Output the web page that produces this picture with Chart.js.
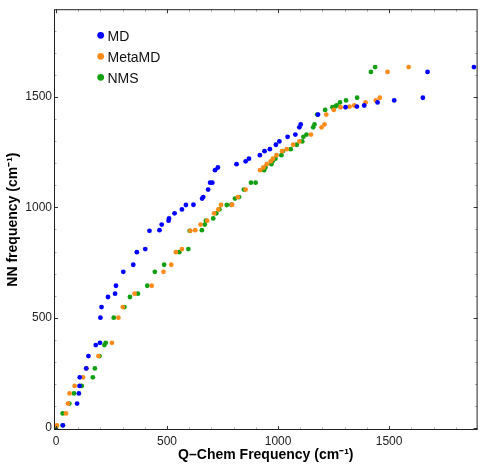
<!DOCTYPE html>
<html><head><meta charset="utf-8">
<script src="https://cdn.jsdelivr.net/npm/chart.js@4/dist/chart.umd.min.js"></script>
<style>html,body{margin:0;padding:0;background:#fff}#wrap{width:480px;height:465px}</style>
</head><body><div id="wrap"><canvas id="c" width="480" height="465"></canvas></div>
<script>
const seriesNames = ['MD', 'MetaMD', 'NMS'];
const seriesColors = ['#0000ff', '#ff8c1a', '#12a012'];

const mdX = [31, 95, 103, 106, 107, 136, 146, 179, 198, 200, 205, 234, 266, 270, 303, 348, 364, 402, 421, 466, 476, 507, 509, 534, 567, 585, 619, 658, 663, 685, 694, 704, 716, 729, 813, 854, 869, 918, 939, 963, 990, 1006, 1043, 1078, 1096, 1102, 1180, 1304, 1355, 1388, 1448, 1523, 1652, 1673, 1882];
const mdY = [12, 111, 157, 191, 230, 270, 326, 376, 386, 500, 548, 594, 609, 645, 708, 740, 797, 811, 894, 897, 922, 940, 950, 973, 991, 1011, 1012, 1040, 1047, 1081, 1112, 1112, 1169, 1181, 1196, 1209, 1221, 1237, 1255, 1264, 1284, 1299, 1320, 1330, 1363, 1376, 1421, 1454, 1457, 1462, 1476, 1485, 1497, 1614, 1636];

const metaX = [4, 45, 54, 61, 84, 122, 137, 191, 252, 281, 301, 354, 431, 484, 519, 540, 567, 605, 627, 651, 681, 712, 731, 743, 793, 819, 854, 919, 934, 949, 967, 977, 993, 1018, 1039, 1068, 1096, 1148, 1196, 1209, 1217, 1251, 1281, 1322, 1343, 1394, 1440, 1458, 1493, 1588];
const metaY = [12, 66, 111, 157, 191, 230, 270, 326, 386, 500, 548, 609, 645, 708, 740, 797, 811, 894, 897, 922, 940, 973, 991, 1011, 1012, 1047, 1081, 1169, 1181, 1196, 1209, 1221, 1237, 1255, 1264, 1284, 1299, 1330, 1363, 1376, 1421, 1442, 1454, 1457, 1462, 1476, 1485, 1497, 1614, 1636];

const nmsX = [0, 30, 30, 60, 81, 116, 166, 175, 196, 218, 224, 260, 308, 333, 369, 411, 445, 487, 555, 596, 602, 657, 670, 675, 708, 722, 736, 769, 790, 806, 824, 846, 878, 899, 937, 943, 970, 975, 988, 1015, 1021, 1057, 1084, 1109, 1114, 1128, 1158, 1164, 1176, 1212, 1245, 1257, 1264, 1279, 1306, 1356, 1418, 1437];
const nmsY = [1, 12, 66, 111, 157, 191, 230, 270, 326, 376, 386, 500, 548, 594, 609, 645, 708, 740, 797, 811, 894, 897, 922, 940, 950, 973, 991, 1011, 1012, 1040, 1047, 1081, 1112, 1112, 1169, 1181, 1196, 1209, 1221, 1237, 1255, 1264, 1284, 1299, 1320, 1330, 1363, 1376, 1421, 1442, 1454, 1457, 1462, 1476, 1485, 1497, 1614, 1636];

const xTickLabels = [0, 500, 1000, 1500];
const yTickLabels = [0, 500, 1000, 1500];
const minorTicks = [0, 100, 200, 300, 400, 500, 600, 700, 800, 900, 1000, 1100, 1200, 1300, 1400, 1500, 1600, 1700, 1800];
const xTitle = 'Q\u2013Chem Frequency (cm\u207B\u00B9)';
const yTitle = 'NN frequency (cm\u207B\u00B9)';

const toPts = (xs, ys) => xs.map((v, i) => ({x: v, y: ys[i]}));
const allX = [mdX, metaX, nmsX];
const allY = [mdY, metaY, nmsY];

const datasets = seriesNames.map((n, i) => ({
  label: n,
  data: toPts(allX[i], allY[i]),
  backgroundColor: seriesColors[i],
  borderWidth: 0,
  pointRadius: 2.4,
  pointHoverRadius: 2.4
}));

const FONT = '"Liberation Sans", Arial, sans-serif';

const framePlugin = {
  id: 'frame',
  afterDatasetsDraw(chart) {
    const {ctx, chartArea: a, scales: {x, y}} = chart;
    ctx.save();
    ctx.lineWidth = 1;
    const majorSet = new Set(xTickLabels);
    minorTicks.forEach(v => {
      const major = majorSet.has(v);
      const len = major ? 4 : 2.5;
      ctx.strokeStyle = major ? '#333' : '#aaa';
      const px = Math.round(x.getPixelForValue(v)) + 0.5;
      ctx.beginPath();
      ctx.moveTo(px, a.bottom); ctx.lineTo(px, a.bottom - len);
      ctx.moveTo(px, a.top); ctx.lineTo(px, a.top + len);
      ctx.stroke();
      const py = Math.round(y.getPixelForValue(v)) + 0.5;
      ctx.beginPath();
      ctx.moveTo(a.left, py); ctx.lineTo(a.left + len, py);
      ctx.moveTo(a.right, py); ctx.lineTo(a.right - len, py);
      ctx.stroke();
    });
    ctx.strokeStyle = '#222';
    ctx.strokeRect(a.left + 0.5, a.top + 0.5, a.right - a.left - 1, a.bottom - a.top - 1);
    chart.data.datasets.forEach((d, i) => {
      const cy = 35.3 + 21 * i;
      ctx.fillStyle = d.backgroundColor;
      ctx.beginPath();
      ctx.arc(100.7, cy, 3.4, 0, Math.PI * 2);
      ctx.fill();
      ctx.fillStyle = '#111';
      ctx.font = '14px ' + FONT;
      ctx.textBaseline = 'alphabetic';
      ctx.textAlign = 'left';
      ctx.fillText(d.label, 107.5, cy + 5.3);
    });
    ctx.restore();
  }
};

new Chart(document.getElementById('c'), {
  type: 'scatter',
  data: {datasets},
  options: {
    responsive: false,
    animation: false,
    devicePixelRatio: 1,
    layout: {padding: {top: 4, right: 0, left: 0, bottom: 0}},
    plugins: {legend: {display: false}, tooltip: {enabled: false}},
    scales: {
      x: {
        type: 'linear', min: -9, max: 1898.5,
        grid: {display: false, drawTicks: false},
        border: {display: false},
        afterFit: s => { s.height = 35; },
        afterBuildTicks: s => { s.ticks = xTickLabels.map(v => ({value: v})); },
        ticks: {padding: 4, color: '#222', font: {family: FONT, size: 12}, maxRotation: 0, autoSkip: false, callback: v => String(v)},
        title: {display: true, text: xTitle, color: '#000', font: {family: FONT, size: 14, weight: 'bold'}, padding: {top: 0, bottom: 1}}
      },
      y: {
        type: 'linear', min: -9, max: 1898.5,
        grid: {display: false, drawTicks: false},
        border: {display: false},
        afterFit: s => { s.width = 54; },
        afterBuildTicks: s => { s.ticks = yTickLabels.map(v => ({value: v})); },
        ticks: {padding: 2, color: '#222', font: {family: FONT, size: 12}, autoSkip: false, callback: v => String(v)},
        title: {display: true, text: yTitle, color: '#000', font: {family: FONT, size: 14, weight: 'bold'}, padding: {top: 5, bottom: 0}}
      }
    }
  },
  plugins: [framePlugin]
});
</script></body></html>
